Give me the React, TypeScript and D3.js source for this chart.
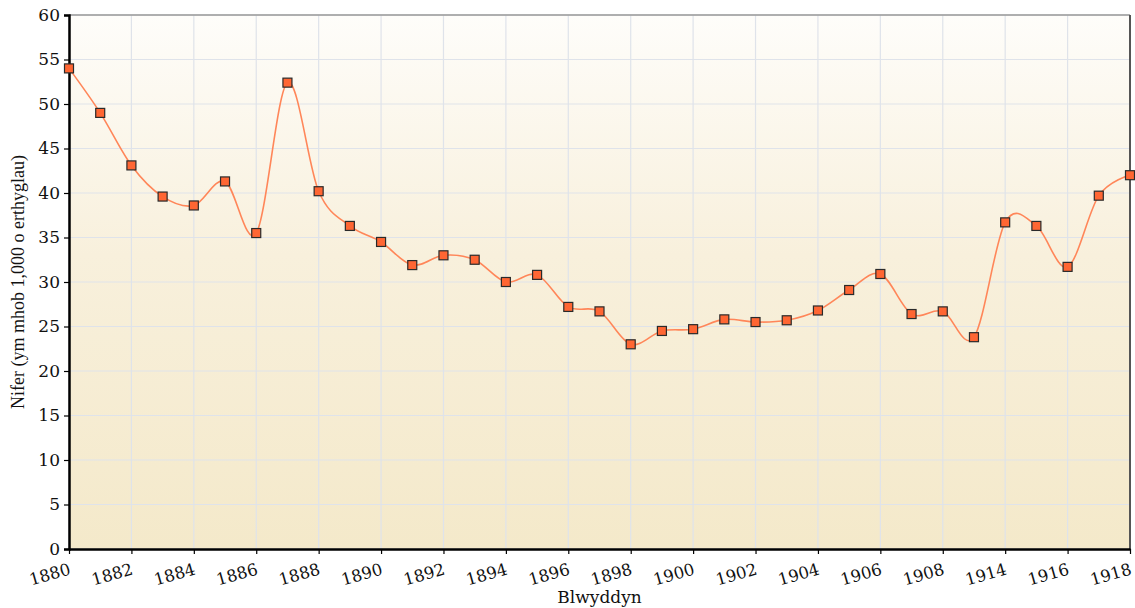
import { useEffect, useRef } from 'react';
import * as d3 from 'd3';

// categories (the series skips 1910-1913)
const years = [
  '1880', '1881', '1882', '1883', '1884', '1885', '1886', '1887', '1888', '1889',
  '1890', '1891', '1892', '1893', '1894', '1895', '1896', '1897', '1898', '1899',
  '1900', '1901', '1902', '1903', '1904', '1905', '1906', '1907', '1908', '1909',
  '1914', '1915', '1916', '1917', '1918',
];

const values = [
  54.0, 49.0, 43.1, 39.6, 38.6, 41.3, 35.5, 52.4, 40.2, 36.3,
  34.5, 31.9, 33.0, 32.5, 30.0, 30.8, 27.2, 26.7, 23.0, 24.5,
  24.7, 25.8, 25.5, 25.7, 26.8, 29.1, 30.9, 26.4, 26.7, 23.8,
  36.7, 36.3, 31.7, 39.7, 42.0,
];

const yTicks = [0, 5, 10, 15, 20, 25, 30, 35, 40, 45, 50, 55, 60];

const App = () => {
  const ref = useRef<SVGSVGElement>(null);

  useEffect(() => {
    const width = 1135;
    const height = 608;
    const margin = { top: 15, right: 5, bottom: 59, left: 69 };

    const svg = d3.select(ref.current);
    svg.selectAll('*').remove();

    const x = d3.scalePoint<string>()
      .domain(years)
      .range([margin.left, width - margin.right]);

    const y = d3.scaleLinear()
      .domain([0, 60])
      .range([height - margin.bottom, margin.top]);

    const defs = svg.append('defs');
    const grad = defs.append('linearGradient')
      .attr('id', 'bg')
      .attr('x1', 0).attr('y1', 0).attr('x2', 0).attr('y2', 1);
    grad.append('stop').attr('offset', '0%').attr('stop-color', '#fefdfa');
    grad.append('stop').attr('offset', '45%').attr('stop-color', '#f8f0dc');
    grad.append('stop').attr('offset', '100%').attr('stop-color', '#f4e9ca');

    svg.append('rect')
      .attr('x', margin.left)
      .attr('y', margin.top)
      .attr('width', width - margin.right - margin.left)
      .attr('height', height - margin.bottom - margin.top)
      .attr('fill', 'url(#bg)');

    // grid
    const grid = svg.append('g').attr('stroke', '#dfe3ea').attr('stroke-width', 1.2);
    yTicks.forEach(t => {
      grid.append('line')
        .attr('x1', margin.left).attr('x2', width - margin.right)
        .attr('y1', y(t)).attr('y2', y(t));
    });
    const labelled = years.filter((_, i) => i % 2 === 0);
    labelled.forEach(yr => {
      grid.append('line')
        .attr('x1', x(yr)!).attr('x2', x(yr)!)
        .attr('y1', margin.top).attr('y2', height - margin.bottom);
    });

    // frame top/right
    svg.append('line')
      .attr('x1', margin.left).attr('x2', width - margin.right)
      .attr('y1', margin.top).attr('y2', margin.top)
      .attr('stroke', '#999').attr('stroke-width', 1.5);
    svg.append('line')
      .attr('x1', width - margin.right).attr('x2', width - margin.right)
      .attr('y1', margin.top).attr('y2', height - margin.bottom)
      .attr('stroke', '#555').attr('stroke-width', 2);

    // y axis
    const yAxis = svg.append('g')
      .attr('transform', `translate(${margin.left},0)`)
      .call(d3.axisLeft(y).tickValues(yTicks).tickSize(5).tickPadding(4));
    yAxis.select('.domain').attr('stroke', '#000').attr('stroke-width', 2.5);
    yAxis.selectAll('.tick line').attr('stroke', '#000').attr('stroke-width', 1.2);
    yAxis.selectAll('text')
      .attr('font-family', 'DejaVu Serif')
      .attr('font-size', 17)
      .attr('fill', '#111');

    // x axis
    const xAxis = svg.append('g')
      .attr('transform', `translate(0,${height - margin.bottom})`)
      .call(d3.axisBottom(x).tickValues(labelled).tickSize(5).tickSizeOuter(0));
    xAxis.select('.domain').attr('stroke', '#000').attr('stroke-width', 2.5);
    xAxis.selectAll('.tick line').attr('stroke', '#000').attr('stroke-width', 1.2);
    xAxis.selectAll('text')
      .attr('font-family', 'DejaVu Serif')
      .attr('font-size', 16.5)
      .attr('fill', '#111')
      .attr('text-anchor', 'end')
      .attr('y', 0)
      .attr('dy', 0)
      .attr('transform', 'translate(2,25) rotate(-16)');

    // line
    const line = d3.line<number>()
      .x((_, i) => x(years[i])!)
      .y(d => y(d))
      .curve(d3.curveCardinal.tension(0));

    svg.append('path')
      .datum(values)
      .attr('fill', 'none')
      .attr('stroke', '#ff8659')
      .attr('stroke-width', 1.6)
      .attr('d', line);

    svg.append('g')
      .selectAll('rect')
      .data(values)
      .enter().append('rect')
      .attr('x', (_, i) => x(years[i])! - 4.5)
      .attr('y', d => y(d) - 4.5)
      .attr('width', 9)
      .attr('height', 9)
      .attr('fill', '#ff6633')
      .attr('stroke', '#2a2a2a')
      .attr('stroke-width', 1.2);

    // titles
    svg.append('text')
      .attr('x', (margin.left + width - margin.right) / 2)
      .attr('y', 603)
      .attr('text-anchor', 'middle')
      .attr('font-family', 'DejaVu Serif')
      .attr('font-size', 17)
      .attr('fill', '#111')
      .text('Blwyddyn');

    svg.append('text')
      .attr('transform', `translate(24,${(margin.top + height - margin.bottom) / 2}) rotate(-90)`)
      .attr('text-anchor', 'middle')
      .attr('font-family', 'Liberation Serif')
      .attr('font-size', 18)
      .attr('fill', '#111')
      .text('Nifer (ym mhob 1,000 o erthyglau)');
  }, []);

  return (
    <svg
      ref={ref}
      width={1135}
      height={608}
      style={{ position: 'absolute', left: 0, top: 0, background: '#fff' }}
    />
  );
};

export default App;
